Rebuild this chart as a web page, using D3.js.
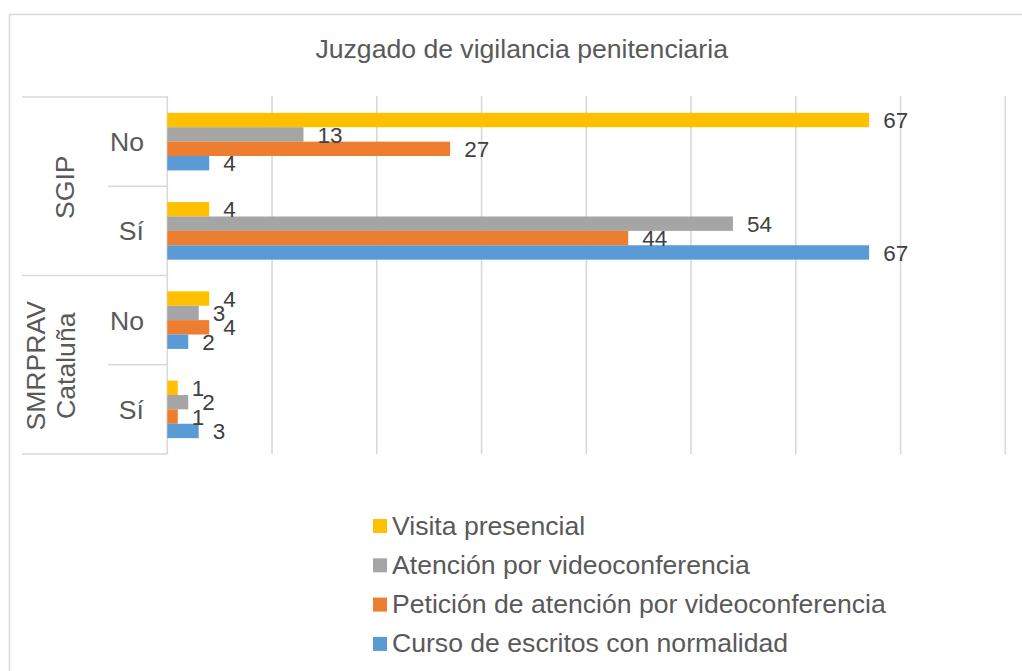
<!DOCTYPE html>
<html><head><meta charset="utf-8">
<script src="https://cdn.jsdelivr.net/npm/d3@7"></script>
<style>
body{margin:0;background:#fff;}
svg{display:block;font-family:"Liberation Sans",Arial,sans-serif;}
</style>
</head><body>
<svg id="chart" width="1022" height="671"></svg>
<script>
// ---- data ----
const title = "Juzgado de vigilancia penitenciaria";
const groupLines = [["SGIP"], ["SMRPRAV", "Cataluña"]];
const subCategories = ["No", "Sí", "No", "Sí"];
const leafGroup = [0, 0, 1, 1];
const seriesNames = ["Visita presencial", "Atención por videoconferencia", "Petición de atención por videoconferencia", "Curso de escritos con normalidad"];
const seriesColors = ["#FFC000", "#A5A5A5", "#ED7D31", "#5B9BD5"];
const visitaPresencial = [67, 4, 4, 1];
const atencionVideo = [13, 54, 3, 2];
const peticionVideo = [27, 44, 4, 1];
const cursoEscritos = [4, 67, 2, 3];
const xTicks = [0, 10, 20, 30, 40, 50, 60, 70, 80];

const seriesValues = [visitaPresencial, atencionVideo, peticionVideo, cursoEscritos];

// ---- layout ----
const svg = d3.select("#chart");
const gridColor = "#D9D9D9";
const textColor = "#595959";
const fs = 26.6;

svg.append("rect").attr("x", 9.5).attr("y", 14.5).attr("width", 1040).attr("height", 700)
  .attr("fill", "none").attr("stroke", gridColor).attr("stroke-width", 1.5);

const x = d3.scaleLinear().domain([0, 80]).range([167.3, 1005.3]);
const y = d3.scaleBand().domain(d3.range(subCategories.length)).range([97, 454]).padding(0);
const ySub = d3.scaleBand().domain(seriesNames).range([0, y.bandwidth()]).paddingInner(0).paddingOuter(1.1);

// gridlines
svg.append("g").selectAll("line").data(xTicks).join("line")
  .attr("x1", d => x(d)).attr("x2", d => x(d))
  .attr("y1", 96).attr("y2", 454)
  .attr("stroke", gridColor).attr("stroke-width", 1.6);

// category axis lines
const catLines = [];
subCategories.forEach((c, i) => {
  const isGroupStart = i === 0 || leafGroup[i] !== leafGroup[i - 1];
  catLines.push({ y: y(i), x1: isGroupStart ? 22 : 108 });
});
catLines.push({ y: y(subCategories.length - 1) + y.bandwidth(), x1: 22 });
svg.append("g").selectAll("line").data(catLines).join("line")
  .attr("x1", d => d.x1).attr("x2", x(0))
  .attr("y1", d => d.y).attr("y2", d => d.y)
  .attr("stroke", gridColor).attr("stroke-width", 1.6);

// bars
const barG = svg.append("g");
seriesNames.forEach((name, s) => {
  barG.append("g").selectAll("rect").data(seriesValues[s]).join("rect")
    .attr("x", x(0))
    .attr("y", (d, i) => y(i) + ySub(name))
    .attr("width", d => x(d) - x(0))
    .attr("height", ySub.bandwidth())
    .attr("fill", seriesColors[s]);
});

// data labels
seriesNames.forEach((name, s) => {
  svg.append("g").selectAll("text").data(seriesValues[s]).join("text")
    .attr("x", d => x(d) + 14)
    .attr("y", (d, i) => y(i) + ySub(name) + ySub.bandwidth() / 2)
    .attr("dy", "0.36em")
    .attr("font-size", 22.5).attr("fill", "#404040")
    .text(d => d);
});

// sub category labels
svg.append("g").selectAll("text").data(subCategories).join("text")
  .attr("x", 144).attr("y", (d, i) => y(i) + y.bandwidth() / 2)
  .attr("dy", "0.36em").attr("text-anchor", "end")
  .attr("font-size", fs).attr("fill", textColor)
  .text(d => d);

// group labels (rotated)
groupLines.forEach((lines, g) => {
  const idx = d3.range(leafGroup.length).filter(i => leafGroup[i] === g);
  const cy = (y(idx[0]) + y(idx[idx.length - 1]) + y.bandwidth()) / 2;
  const n = lines.length;
  lines.forEach((ln, k) => {
    const bx = (n > 1 ? 75 : 73.5) - (n - 1 - k) * 30;
    svg.append("text")
      .attr("transform", `translate(${bx},${cy + 1}) rotate(-90)`)
      .attr("text-anchor", "middle")
      .attr("font-size", fs).attr("fill", textColor)
      .text(ln);
  });
});

// title
svg.append("text").attr("x", 521.7).attr("y", 58).attr("text-anchor", "middle")
  .attr("font-size", fs).attr("fill", textColor).text(title);

// legend
const legend = svg.append("g").selectAll("g").data(seriesNames).join("g")
  .attr("transform", (d, i) => `translate(373,${526 + i * 39.3})`);
legend.append("rect").attr("x", 0).attr("y", -7).attr("width", 14).attr("height", 14)
  .attr("fill", (d, i) => seriesColors[i]);
legend.append("text").attr("x", 19).attr("y", 8.5)
  .attr("font-size", fs).attr("fill", textColor).text(d => d);
</script>
</body></html>
